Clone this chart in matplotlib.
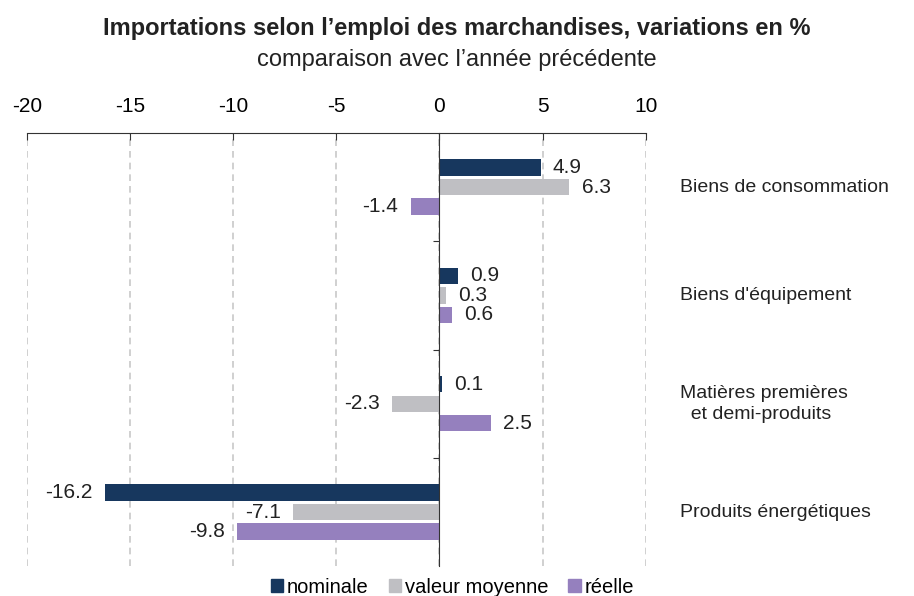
import numpy as np
import matplotlib.pyplot as plt
from matplotlib.patches import Patch
import matplotlib.transforms as mtransforms

plt.rcParams['font.family'] = ['Liberation Sans', 'DejaVu Sans']

categories = ['Biens de consommation', "Biens d'équipement",
              'Matières premières\n  et demi-produits', 'Produits énergétiques']
series = ['nominale', 'valeur moyenne', 'réelle']
nominale = [4.9, 0.9, 0.1, -16.2]
valeur_moyenne = [6.3, 0.3, -2.3, -7.1]
reelle = [-1.4, 0.6, 2.5, -9.8]
colors = ['#17375E', '#BFBFC3', '#9580BE']

fig = plt.figure(figsize=(9.14, 5.96), dpi=100)
ax = fig.add_axes([0.0295, 0.050, 0.677, 0.727])

y = np.arange(len(categories))
step = 0.18
height = 0.15
for i, (vals, col) in enumerate(zip([nominale, valeur_moyenne, reelle], colors)):
    pos = y + (i - 1) * step
    ax.barh(pos, vals, height=height, color=col, zorder=3)
    for p, v in zip(pos, vals):
        off = 0.6 if v >= 0 else -0.6
        ax.text(v + off, p, f'{v:.1f}', va='center',
                ha='left' if v >= 0 else 'right', fontsize=15, color='#222222')

ax.set_xlim(-20, 10)
ax.set_ylim(3.5, -0.5)
ax.set_xticks([-20, -15, -10, -5, 0, 5, 10])
ax.set_xticklabels(['-20', '-15', '-10', '-5', '0', '5', '10'])
ax.xaxis.tick_top()
ax.tick_params(axis='x', direction='in', length=5, labelsize=15, pad=12, color='#333333')
ax.grid(axis='x', linestyle=(0, (4, 3)), color='#C8C8C8', linewidth=1.2, zorder=0)

for s in ['bottom', 'right']:
    ax.spines[s].set_visible(False)
ax.spines['top'].set_color('#333333')
ax.spines['left'].set_position(('data', 0))
ax.spines['left'].set_color('#333333')
ax.spines['left'].set_zorder(4)
ax.set_yticks([0.5, 1.5, 2.5])
ax.set_yticklabels([])
ax.tick_params(axis='y', direction='out', length=4, color='#333333')

trans = mtransforms.blended_transform_factory(ax.transAxes, ax.transData)
for yi, cat in zip(y, categories):
    ax.text(1.055, yi, cat, transform=trans, va='center', ha='left', fontsize=14,
            color='#222222', linespacing=1.3)

fig.text(0.5, 0.952, 'Importations selon l’emploi des marchandises, variations en %',
         ha='center', va='center', fontsize=17, fontweight='bold', color='#222222')
fig.text(0.5, 0.900, 'comparaison avec l’année précédente',
         ha='center', va='center', fontsize=17, color='#222222')

handles = [Patch(color=c) for c in colors]
fig.legend(handles, series, loc='center', bbox_to_anchor=(0.495, 0.015), ncol=3,
           frameon=False, fontsize=14.5, handlelength=0.6, handleheight=0.6,
           handletextpad=0.2, columnspacing=1.0)

fig.savefig('out.png', dpi=100)
